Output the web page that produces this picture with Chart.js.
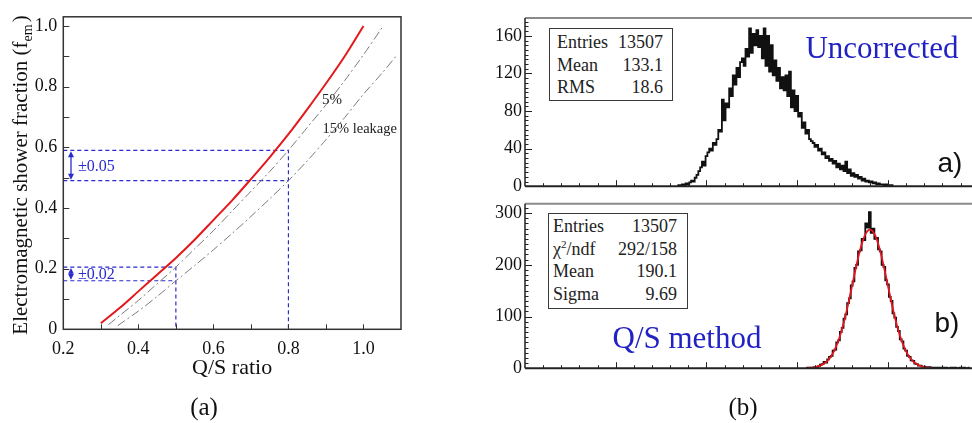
<!DOCTYPE html>
<html>
<head>
<meta charset="utf-8">
<script src="https://cdn.jsdelivr.net/npm/chart.js@4.4.1/dist/chart.umd.min.js"></script>
<style>
  body { margin: 0; background: #fff; width: 972px; height: 423px; position: relative; overflow: hidden;
         font-family: "Liberation Serif", "Times New Roman", serif; color: #222; }
  canvas { position: absolute; }
  #femChart { left: 0; top: 0; }
  #rawChart { left: 490px; top: 0; }
  #qsChart { left: 490px; top: 190px; }
  .stats { position: absolute; box-sizing: border-box; border: 1.5px solid #3a3a3a; background: #fff;
           font-size: 18px; line-height: 22.6px; }
  .stats div { display: flex; justify-content: space-between; white-space: nowrap; }
  .tag { position: absolute; transform: translate(-50%, -50%); white-space: nowrap; }
  .blue { color: #2222c4; font-size: 31px; }
  .sans { font-family: "Liberation Sans", Arial, sans-serif; font-size: 28px; color: #111; }
  .caption { font-size: 25px; color: #111; }
</style>
</head>
<body>
<canvas id="femChart" width="420" height="395"></canvas>
<canvas id="rawChart" width="482" height="200"></canvas>
<canvas id="qsChart" width="482" height="192"></canvas>

<div class="stats" style="left:549px;top:28px;width:124px;height:73px;padding:2px 9px 0 7px;">
  <div><span>Entries</span><span>13507</span></div>
  <div><span>Mean</span><span>133.1</span></div>
  <div><span>RMS</span><span>18.6</span></div>
</div>
<div class="stats" style="left:548px;top:213px;width:140px;height:96px;padding:1px 10px 0 4px;">
  <div><span>Entries</span><span>13507</span></div>
  <div><span>χ<sup style="font-size:11px;line-height:0">2</sup>/ndf</span><span>292/158</span></div>
  <div><span>Mean</span><span>190.1</span></div>
  <div><span>Sigma</span><span>9.69</span></div>
</div>

<div class="tag blue" style="left:882px;top:48px;">Uncorrected</div>
<div class="tag sans" style="left:950px;top:163px;">a)</div>
<div class="tag blue" style="left:687px;top:338px;">Q/S method</div>
<div class="tag sans" style="left:947px;top:323px;">b)</div>
<div class="tag caption" style="left:204px;top:407px;">(a)</div>
<div class="tag caption" style="left:743px;top:407px;">(b)</div>

<script>
// ---- (a) em fraction vs Q/S ratio ----
const qsNoLeak  = [0.30, 0.35, 0.40, 0.45, 0.50, 0.55, 0.60, 0.65, 0.70, 0.75, 0.80, 0.85, 0.90, 0.95, 1.00];
const femNoLeak = [0.02, 0.07, 0.125, 0.18, 0.235, 0.295, 0.36, 0.425, 0.495, 0.567, 0.643, 0.725, 0.81, 0.90, 1.00];
const qsLeak5   = [0.32, 0.35, 0.40, 0.45, 0.50, 0.55, 0.60, 0.65, 0.70, 0.75, 0.80, 0.85, 0.90, 0.95, 1.00, 1.05];
const femLeak5  = [0.015, 0.045, 0.095, 0.15, 0.205, 0.265, 0.325, 0.39, 0.455, 0.52, 0.59, 0.665, 0.74, 0.82, 0.905, 0.995];
const qsLeak15  = [0.345, 0.40, 0.45, 0.50, 0.55, 0.60, 0.65, 0.70, 0.75, 0.80, 0.85, 0.90, 0.95, 1.00, 1.05, 1.09];
const femLeak15 = [0.012, 0.06, 0.108, 0.16, 0.21, 0.262, 0.316, 0.372, 0.43, 0.49, 0.555, 0.625, 0.698, 0.775, 0.845, 0.905];

// read-off guides: Q/S value, f_em on the 5% and 15% curves
const guideQS   = [0.5, 0.8];
const guideHigh = [0.205, 0.59];
const guideLow  = [0.16, 0.49];
const guideText = ['±0.02', '±0.05'];

// ---- (b) reconstructed energy histograms (1 unit bins) ----
const rawStart = 84;
const rawCounts = [1, 0, 1, 2, 1, 3, 2, 4, 6, 5, 9, 12, 16, 20, 26, 22, 32, 36, 40, 38,
  46, 44, 50, 60, 58, 92, 70, 88, 84, 104, 96, 118, 108, 126, 116, 132, 136, 128, 146, 138,
  168, 142, 162, 150, 166, 148, 160, 136, 168, 128, 160, 122, 150, 118, 134, 112, 126, 104, 116, 102,
  118, 96, 122, 84, 102, 80, 96, 74, 78, 62, 68, 56, 60, 50, 48, 46, 42, 44, 38, 40,
  34, 36, 30, 32, 27, 29, 24, 27, 20, 24, 18, 22, 16, 26, 14, 18, 11, 14, 10, 12,
  8, 10, 6, 8, 5, 6, 4, 5, 3, 4, 2, 3, 2, 2, 1, 2, 1, 1, 0, 1];

const qsStart = 155;
const qsCounts = [0, 1, 0, 1, 1, 2, 2, 4, 7, 8, 12, 11, 17, 22, 24, 34, 36, 50, 54, 70,
  78, 96, 104, 126, 135, 160, 168, 194, 200, 226, 228, 250, 248, 280, 272, 302, 262, 270, 250, 252,
  230, 226, 200, 196, 170, 162, 138, 130, 106, 98, 80, 72, 56, 52, 38, 34, 24, 22, 15, 14,
  9, 8, 5, 5, 3, 3, 2, 1, 2, 1, 1, 0, 1, 1, 0, 1, 0, 1, 0, 0, 1, 0, 1, 0, 0, 1, 0, 1, 0, 0, 1];

// gaussian fit, read at integer bins
const fitStart = 156;
const fitValues = [0.6, 0.9, 1.2, 1.6, 2.2, 2.9, 4.0, 5.4, 7.1, 9.4, 12.2, 15.7, 19.9, 25.0,
  31.2, 38.4, 46.9, 56.5, 67.4, 79.6, 93.0, 107.5, 123.0, 139.1, 155.7, 172.4, 189.0, 205.0, 219.8, 233.4,
  245.0, 254.6, 261.8, 266.3, 268.0, 266.8, 262.9, 256.3, 247.2, 235.8, 222.6, 208.0, 192.0, 175.6, 159.0,
  142.5, 126.2, 110.5, 95.6, 82.2, 69.7, 58.6, 48.7, 40.0, 32.5, 26.2, 20.9, 16.4, 12.8, 9.9, 7.5, 5.7,
  4.2, 3.1, 2.2, 1.6, 1.1, 0.8, 0.5];

const SERIF = '"Liberation Serif", "Times New Roman", serif';
const BLUE = '#2a2ad0';

const pts = (xs, ys) => xs.map((v, i) => ({ x: v, y: ys[i] }));
const bins = (start, arr) => arr.map((c, i) => ({ x: start + i, y: c }));

function line(ctx, x1, y1, x2, y2) {
  ctx.beginPath(); ctx.moveTo(x1, y1); ctx.lineTo(x2, y2); ctx.stroke();
}

// guide polylines: left axis -> curve -> down to zero
const guideSets = [];
guideQS.forEach((q, i) => {
  guideSets.push({ data: [{ x: 0.2, y: guideHigh[i] }, { x: q, y: guideHigh[i] }, { x: q, y: 0 }] });
  guideSets.push({ data: [{ x: 0.2, y: guideLow[i] }, { x: q, y: guideLow[i] }] });
});

const femExtras = {
  id: 'femExtras',
  afterDraw(chart) {
    const { ctx, chartArea: a, scales: { x, y } } = chart;
    ctx.save();
    ctx.strokeStyle = '#333';
    ctx.lineWidth = 1.5;
    ctx.strokeRect(a.left, a.top, a.right - a.left, a.bottom - a.top);
    ctx.lineWidth = 1;
    for (let i = 3; i <= 10; i++) {
      const px = Math.round(x.getPixelForValue(i / 10)) + 0.5;
      line(ctx, px, a.bottom, px, a.bottom - 5);
    }
    for (let i = 1; i <= 10; i++) {
      const py = Math.round(y.getPixelForValue(i / 10)) + 0.5;
      line(ctx, a.left, py, a.left + 6, py);
    }

    // double arrows with the spread labels
    ctx.strokeStyle = BLUE; ctx.fillStyle = BLUE; ctx.lineWidth = 1.3;
    const ax = x.getPixelForValue(0.2205);
    guideQS.forEach((q, i) => {
      const yTop = y.getPixelForValue(guideHigh[i]) + 1;
      const yBot = y.getPixelForValue(guideLow[i]) - 1;
      line(ctx, ax, yTop + 3, ax, yBot - 3);
      ctx.beginPath();
      ctx.moveTo(ax, yTop); ctx.lineTo(ax - 3, yTop + 6); ctx.lineTo(ax + 3, yTop + 6); ctx.closePath();
      ctx.moveTo(ax, yBot); ctx.lineTo(ax - 3, yBot - 6); ctx.lineTo(ax + 3, yBot - 6); ctx.closePath();
      ctx.fill();
      ctx.font = '16px ' + SERIF;
      ctx.textAlign = 'left'; ctx.textBaseline = 'middle';
      ctx.fillText(guideText[i], x.getPixelForValue(0.239), (yTop + yBot) / 2 + 1);
    });

    // curve labels
    ctx.fillStyle = '#222';
    ctx.textAlign = 'center';
    ctx.font = '15px ' + SERIF;
    ctx.fillText('5%', x.getPixelForValue(0.916), y.getPixelForValue(0.757));
    ctx.font = '14.5px ' + SERIF;
    ctx.fillText('15% leakage', x.getPixelForValue(0.99), y.getPixelForValue(0.659));

    // axis titles
    ctx.fillStyle = '#111';
    ctx.font = '22px ' + SERIF;
    ctx.fillText('Q/S ratio', (a.left + a.right) / 2, 368);

    ctx.translate(27, 175);
    ctx.rotate(-Math.PI / 2);
    ctx.textAlign = 'left'; ctx.textBaseline = 'alphabetic';
    const main = 'Electromagnetic shower fraction (f';
    ctx.font = '21px ' + SERIF;
    const w1 = ctx.measureText(main).width;
    ctx.font = '14px ' + SERIF;
    const w2 = ctx.measureText('em').width;
    ctx.font = '21px ' + SERIF;
    const w3 = ctx.measureText(')').width;
    let sx = -(w1 + w2 + w3 + 2) / 2;
    ctx.fillText(main, sx, 0);
    ctx.font = '14px ' + SERIF;
    ctx.fillText('em', sx + w1, 5);
    ctx.font = '21px ' + SERIF;
    ctx.fillText(')', sx + w1 + w2 + 2, 0);
    ctx.restore();
  }
};

new Chart(document.getElementById('femChart'), {
  type: 'scatter',
  data: {
    datasets: [
      { data: pts(qsNoLeak, femNoLeak), borderColor: '#e3191c', borderWidth: 2, order: 0, tension: 0.3 },
      { data: pts(qsLeak5, femLeak5), borderColor: '#7a7a7a', borderWidth: 1, borderDash: [9, 3, 2, 3], order: 1, tension: 0.3 },
      { data: pts(qsLeak15, femLeak15), borderColor: '#7a7a7a', borderWidth: 1, borderDash: [9, 3, 2, 3], order: 1, tension: 0.3 },
      ...guideSets.map(g => ({ ...g, borderColor: BLUE, borderWidth: 1.2, borderDash: [4, 3], order: 2 }))
    ].map(d => ({ ...d, showLine: true, pointRadius: 0, fill: false }))
  },
  options: {
    responsive: false,
    animation: false,
    layout: { padding: { top: 5, right: 19, left: 0, bottom: 0 } },
    plugins: { legend: { display: false }, tooltip: { enabled: false } },
    scales: {
      x: {
        type: 'linear', min: 0.2, max: 1.1,
        grid: { display: false, drawTicks: false }, border: { display: false },
        afterFit: s => { s.height = 65.7; },
        ticks: { stepSize: 0.2, includeBounds: false, padding: 9, color: '#111',
                 font: { family: SERIF, size: 18 }, callback: v => v.toFixed(1) }
      },
      y: {
        min: 0, max: 1.03,
        grid: { display: false, drawTicks: false }, border: { display: false },
        afterFit: s => { s.width = 63.3; },
        ticks: { stepSize: 0.2, includeBounds: false, padding: 6, color: '#111',
                 font: { family: SERIF, size: 18 }, callback: v => (v === 0 ? '0' : v.toFixed(1)) }
      }
    }
  },
  plugins: [femExtras]
});

// ---- (b) frame with ticks drawn inside, open on the right ----
const rootFrame = {
  id: 'rootFrame',
  afterDatasetsDraw(chart, args, opts) {
    const { ctx, chartArea: a, scales: { x, y } } = chart;
    ctx.save();
    ctx.strokeStyle = '#222';
    ctx.lineWidth = 1;
    for (let v = 10; v < x.max; v += 10) {
      const px = Math.round(x.getPixelForValue(v)) + 0.5;
      line(ctx, px, a.bottom, px, a.bottom - (v % 50 === 0 ? 6 : 3));
    }
    const n = Math.floor(y.max / opts.minor);
    for (let k = 1; k <= n; k++) {
      const py = Math.round(y.getPixelForValue(k * opts.minor)) + 0.5;
      line(ctx, a.left, py, a.left + ((k * opts.minor) % opts.major === 0 ? 7 : 3.5), py);
    }
    ctx.strokeStyle = '#8a8a8a'; ctx.lineWidth = 2;
    line(ctx, a.left, a.top, a.right, a.top);
    ctx.strokeStyle = '#222'; ctx.lineWidth = 1.5;
    line(ctx, a.left, a.top, a.left, a.bottom);
    ctx.lineWidth = 2;
    line(ctx, a.left, a.bottom, a.right, a.bottom);
    ctx.restore();
  }
};

function histChart(id, datasets, yMax, major, minor, pad) {
  return new Chart(document.getElementById(id), {
    type: 'scatter',
    data: { datasets: datasets.map(d => ({ ...d, showLine: true, pointRadius: 0, fill: false })) },
    options: {
      responsive: false,
      animation: false,
      layout: { padding: pad },
      plugins: { legend: { display: false }, tooltip: { enabled: false }, rootFrame: { major, minor } },
      scales: {
        x: { type: 'linear', min: 0, max: 246.3, display: false },
        y: {
          min: 0, max: yMax,
          grid: { display: false, drawTicks: false }, border: { display: false },
          afterFit: s => { s.width = 35; },
          ticks: { stepSize: major, includeBounds: false, padding: 3, color: '#111',
                   font: { family: SERIF, size: 18 } }
        }
      }
    },
    plugins: [rootFrame]
  });
}

histChart('rawChart', [
  { data: bins(rawStart, rawCounts), borderColor: '#111', borderWidth: 1.8, stepped: 'middle' }
], 179, 40, 5, { top: 18, bottom: 7.3, left: 0, right: 0 });

histChart('qsChart', [
  { data: bins(fitStart, fitValues), borderColor: '#e8141e', borderWidth: 1.8, tension: 0.3, order: 0 },
  { data: bins(qsStart, qsCounts), borderColor: '#111', borderWidth: 1.8, stepped: 'middle', order: 1 }
], 318, 100, 10, { top: 8, bottom: 8, left: 0, right: 0 });
</script>
</body>
</html>
